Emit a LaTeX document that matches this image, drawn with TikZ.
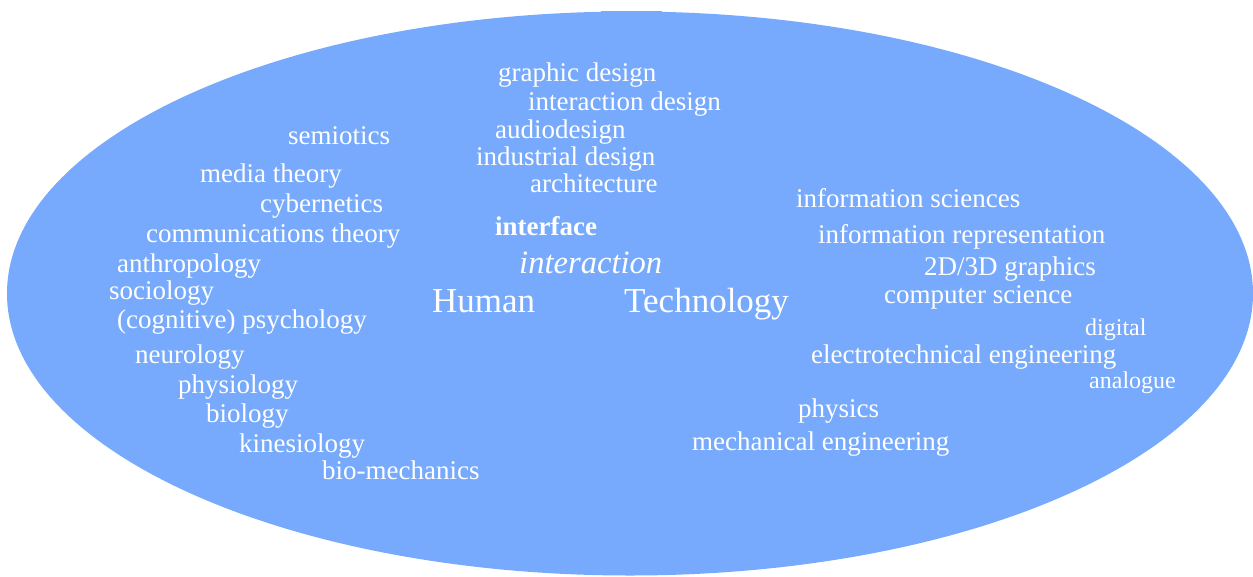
\documentclass[tikz,border=0pt]{standalone}
\usepackage{fontspec}
\setmainfont{Liberation Serif}
\usetikzlibrary{positioning}

\definecolor{fieldblue}{RGB}{119,170,252}

\begin{document}
\begin{tikzpicture}[
  x=1pt, y=-1pt,
  field/.style={text=white, anchor=base west, inner sep=0pt, font=\fontsize{27}{31}\selectfont},
  small/.style={field, font=\fontsize{24}{28}\selectfont},
  core/.style={field, font=\fontsize{35}{40}\selectfont},
  keyword/.style={field, font=\fontsize{27}{31}\selectfont\bfseries},
  idea/.style={field, font=\fontsize{32.6}{37}\selectfont\itshape}
]
\useasboundingbox (0,0) rectangle (1253,576);

% Background field
\fill[fieldblue] (630,293.5) ellipse [x radius=623, y radius=282];
\fill[fieldblue] (601,10.5) rectangle (662,14);

% Centre
\node[keyword] (iface) at (495,235) {interface};
\node[idea] (inter) at (519,273) {interaction};
\node[core] (human) at (432,312) {Human};
\node[core] (tech) at (624,312) {Technology};

% Design disciplines
\node[field] (graph) at (498,81) {graphic design};
\node[field] (intdes) at (528,110) {interaction design};
\node[field] (audio) at (495,138) {audiodesign};
\node[field] (indus) at (476,165) {industrial design};
\node[field] (arch) at (530,192) {architecture};

% Human side
\node[field] (semio) at (288,144) {semiotics};
\node[field] (media) at (200,182) {media theory};
\node[field] (cyber) at (260,212) {cybernetics};
\node[field] (comm) at (146,242) {communications theory};
\node[field] (anthro) at (117,272) {anthropology};
\node[field] (socio) at (109,299) {sociology};
\node[field] (psych) at (117,328) {(cognitive) psychology};
\node[field] (neuro) at (135,363) {neurology};
\node[field] (physio) at (178,393) {physiology};
\node[field] (bio) at (206,422) {biology};
\node[field] (kines) at (239,452) {kinesiology};
\node[field] (biomech) at (322,479) {bio-mechanics};

% Technology side
\node[field] (infsci) at (796,207) {information sciences};
\node[field] (infrep) at (818,243) {information representation};
\node[field] (gfx) at (924,275) {2D/3D graphics};
\node[field] (cs) at (884,303) {computer science};
\node[small] (digi) at (1085,335) {digital};
\node[field] (elec) at (811,363) {electrotechnical engineering};
\node[small] (ana) at (1089,388) {analogue};
\node[field] (phys) at (798,417) {physics};
\node[field] (mech) at (692,450) {mechanical engineering};

\end{tikzpicture}
\end{document}
